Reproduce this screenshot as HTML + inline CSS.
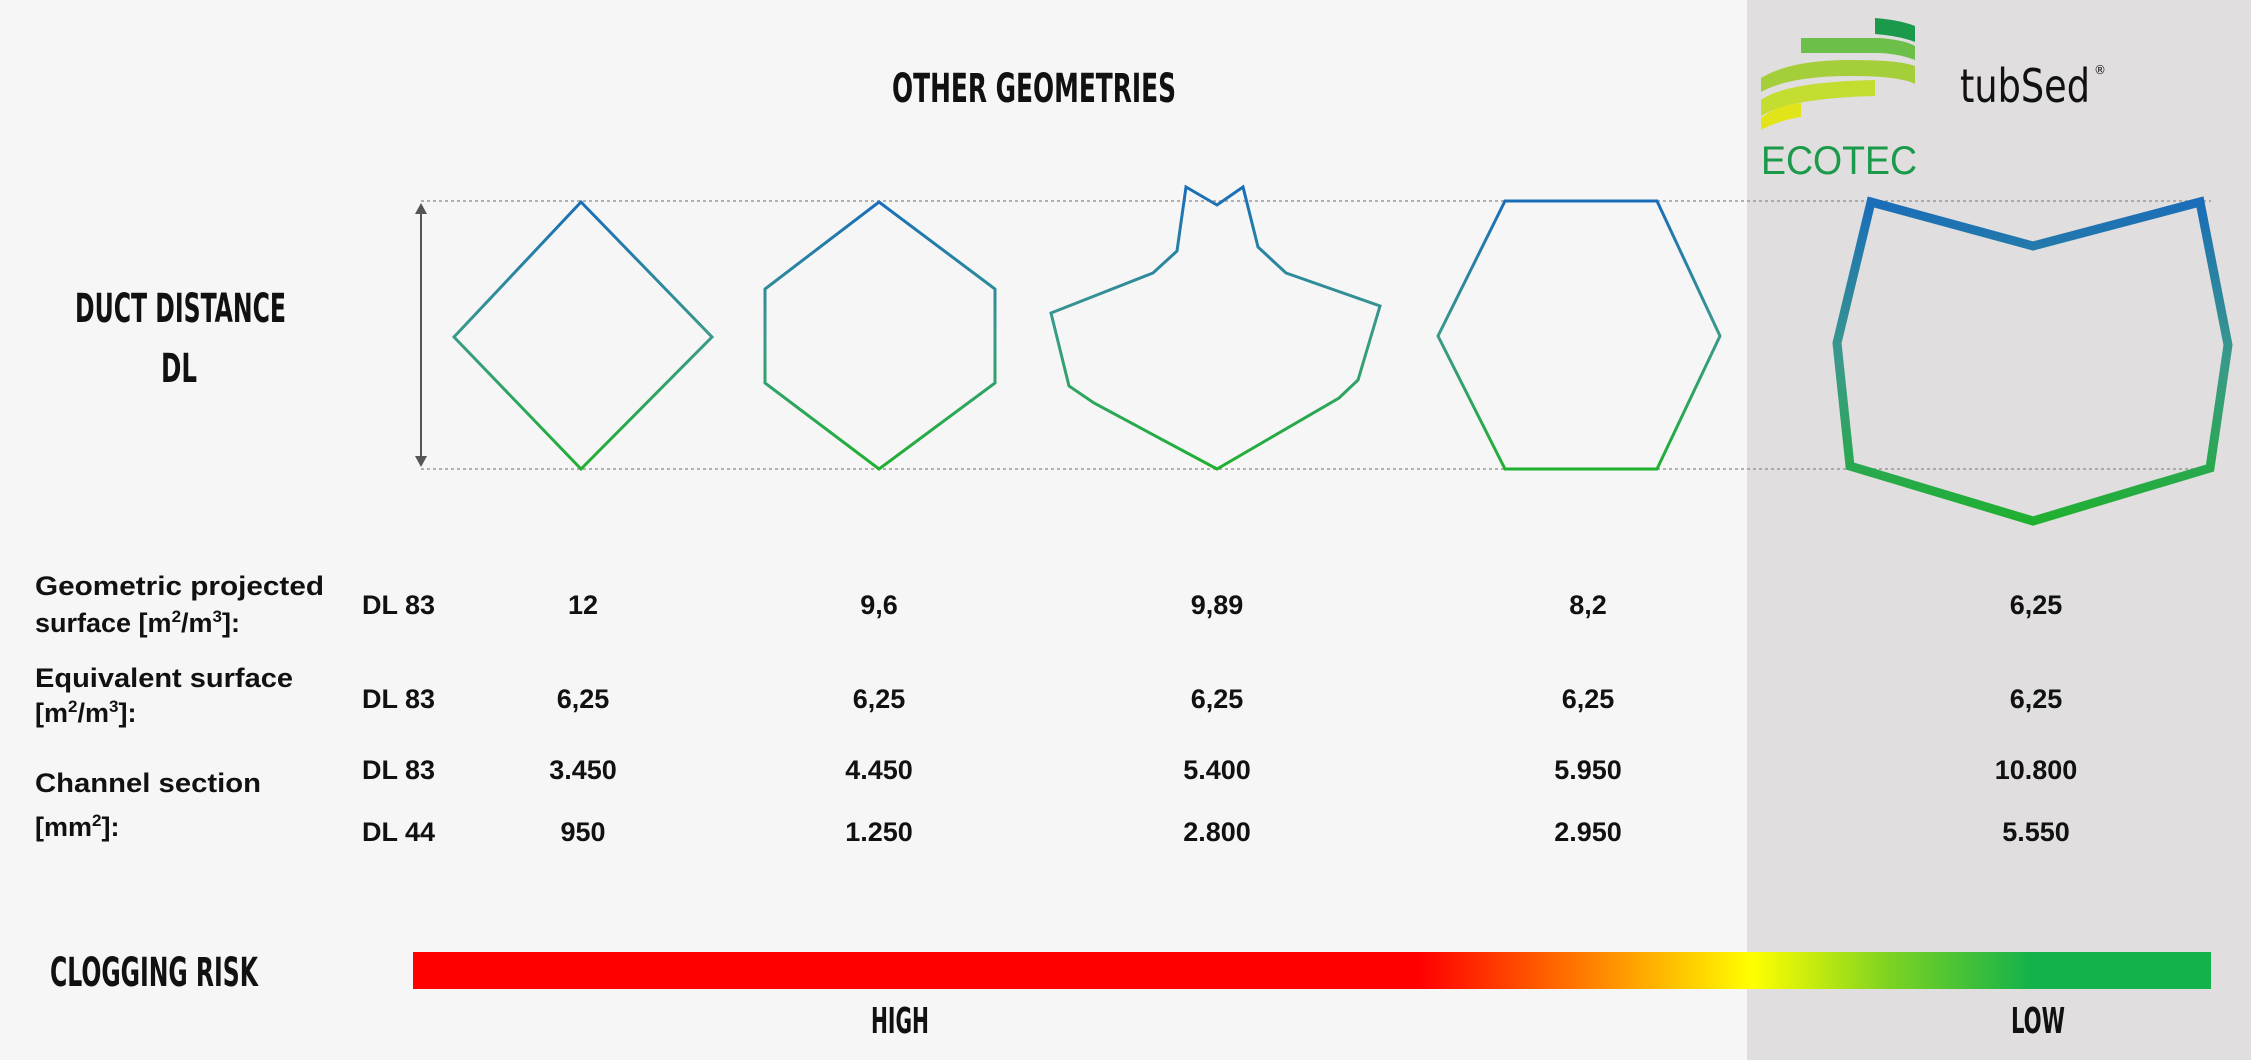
<!DOCTYPE html>
<html><head><meta charset="utf-8"><style>
html,body{margin:0;padding:0;background:#f6f6f6;}
svg{display:block;}
.h{font-family:"DejaVu Sans Condensed","Liberation Sans",sans-serif;font-weight:bold;fill:#111;}
.t{font-family:"Liberation Sans",sans-serif;font-weight:bold;fill:#111;font-size:27px;}
.v{font-family:"Liberation Sans",sans-serif;font-weight:bold;fill:#111;font-size:27px;text-anchor:middle;}
</style></head><body>
<svg width="2251" height="1060" viewBox="0 0 2251 1060" xmlns="http://www.w3.org/2000/svg">
<defs>
<linearGradient id="g" x1="0" y1="0" x2="0" y2="1"><stop offset="0" stop-color="#1a6db8"/><stop offset="0.5" stop-color="#3a9a8a"/><stop offset="1" stop-color="#20b030"/></linearGradient>
<linearGradient id="r" x1="0" y1="0" x2="1" y2="0">
<stop offset="0" stop-color="#ff0000"/><stop offset="0.56" stop-color="#ff0000"/><stop offset="0.65" stop-color="#ff7a00"/><stop offset="0.745" stop-color="#ffff00"/><stop offset="0.82" stop-color="#7ed321"/><stop offset="0.9" stop-color="#13b24a"/><stop offset="1" stop-color="#13b24a"/></linearGradient>
</defs>
<rect x="0" y="0" width="2251" height="1060" fill="#f6f6f6"/>
<rect x="1747" y="0" width="504" height="1060" fill="#e0dede"/>
<text class="h" x="1034" y="102" font-size="40" text-anchor="middle" textLength="284" lengthAdjust="spacingAndGlyphs">OTHER  GEOMETRIES</text>
<line x1="421" y1="201" x2="2211" y2="201" stroke="#999" stroke-width="1.5" stroke-dasharray="3,3"/>
<line x1="421" y1="469" x2="2211" y2="469" stroke="#999" stroke-width="1.5" stroke-dasharray="3,3"/>
<line x1="421" y1="210" x2="421" y2="460" stroke="#555" stroke-width="2"/>
<polygon points="421,203 415,214 427,214" fill="#555"/>
<polygon points="421,467 415,456 427,456" fill="#555"/>
<text class="h" x="75" y="322" font-size="40" textLength="211" lengthAdjust="spacingAndGlyphs">DUCT DISTANCE</text>
<text class="h" x="161" y="382" font-size="40" textLength="36" lengthAdjust="spacingAndGlyphs">DL</text>
<g fill="none" stroke="url(#g)" stroke-width="3" stroke-linejoin="miter">
<polygon points="581,202 712,337 581,469 454,337"/>
<polygon points="879,202 995,289 995,383 879,469 765,383 765,289"/>
<polygon points="1186,187 1217,205 1243,187 1258,247 1286,273 1380,306 1358,380 1339,398 1217,469 1094,403 1069,386 1051,313 1153,273 1177,251"/>
<polygon points="1505,201 1657,201 1720,336 1657,469 1505,469 1438,336"/>
<polygon stroke-width="9" points="1871,202 2033,246 2200,202 2228,345 2210,468 2033,521 1850,466 1837,343"/>
</g>
<!-- logo -->
<path d="M1875,18 Q1900,20 1915,26 L1915,42 Q1900,36 1875,34 Z" fill="#1a9a4a"/>
<path d="M1801,38 L1880,38 Q1905,40 1915,46 L1915,60 Q1900,54 1880,53 L1801,53 Z" fill="#6cc04a"/>
<path d="M1761,78 Q1790,60 1850,60 Q1900,60 1915,66 L1915,84 Q1900,76 1850,76 Q1790,76 1761,92 Z" fill="#a5cf3a"/>
<path d="M1761,100 Q1785,82 1875,80 L1875,96 Q1790,98 1761,116 Z" fill="#c5dc30"/>
<path d="M1761,118 Q1775,106 1801,103 L1801,117 Q1780,120 1761,130 Z" fill="#e2e41a"/>
<text x="1761" y="174" font-family="Liberation Sans,sans-serif" font-size="40" fill="#1a9a4a" textLength="156" lengthAdjust="spacingAndGlyphs">ECOTEC</text>
<text x="1960" y="102" font-family="DejaVu Sans,sans-serif" font-size="46" fill="#111" textLength="130" lengthAdjust="spacingAndGlyphs">tubSed</text>
<text x="2094" y="74" font-family="DejaVu Sans,sans-serif" font-size="12" fill="#111">®</text>
<!-- table -->
<text class="t" x="35" y="595" textLength="289" lengthAdjust="spacingAndGlyphs">Geometric projected</text>
<text class="t" x="35" y="632">surface [m<tspan font-size="17" dy="-10">2</tspan><tspan dy="10">/m</tspan><tspan font-size="17" dy="-10">3</tspan><tspan dy="10">]:</tspan></text>
<text class="t" x="35" y="687" textLength="258" lengthAdjust="spacingAndGlyphs">Equivalent surface</text>
<text class="t" x="35" y="722">[m<tspan font-size="17" dy="-10">2</tspan><tspan dy="10">/m</tspan><tspan font-size="17" dy="-10">3</tspan><tspan dy="10">]:</tspan></text>
<text class="t" x="35" y="792" textLength="226" lengthAdjust="spacingAndGlyphs">Channel section</text>
<text class="t" x="35" y="836">[mm<tspan font-size="17" dy="-10">2</tspan><tspan dy="10">]:</tspan></text>
<g class="t"><text class="t" x="362" y="614">DL 83</text><text class="t" x="362" y="708">DL 83</text><text class="t" x="362" y="779">DL 83</text><text class="t" x="362" y="841">DL 44</text></g>
<g>
<text class="v" x="583" y="614">12</text><text class="v" x="879" y="614">9,6</text><text class="v" x="1217" y="614">9,89</text><text class="v" x="1588" y="614">8,2</text><text class="v" x="2036" y="614">6,25</text>
<text class="v" x="583" y="708">6,25</text><text class="v" x="879" y="708">6,25</text><text class="v" x="1217" y="708">6,25</text><text class="v" x="1588" y="708">6,25</text><text class="v" x="2036" y="708">6,25</text>
<text class="v" x="583" y="779">3.450</text><text class="v" x="879" y="779">4.450</text><text class="v" x="1217" y="779">5.400</text><text class="v" x="1588" y="779">5.950</text><text class="v" x="2036" y="779">10.800</text>
<text class="v" x="583" y="841">950</text><text class="v" x="879" y="841">1.250</text><text class="v" x="1217" y="841">2.800</text><text class="v" x="1588" y="841">2.950</text><text class="v" x="2036" y="841">5.550</text>
</g>
<text class="h" x="50" y="986" font-size="40" textLength="208" lengthAdjust="spacingAndGlyphs">CLOGGING RISK</text>
<rect x="413" y="952" width="1798" height="37" fill="url(#r)"/>
<text class="h" x="900" y="1033" font-size="36" text-anchor="middle" textLength="58" lengthAdjust="spacingAndGlyphs">HIGH</text>
<text class="h" x="2038" y="1033" font-size="36" text-anchor="middle" textLength="54" lengthAdjust="spacingAndGlyphs">LOW</text>
</svg>
</body></html>
